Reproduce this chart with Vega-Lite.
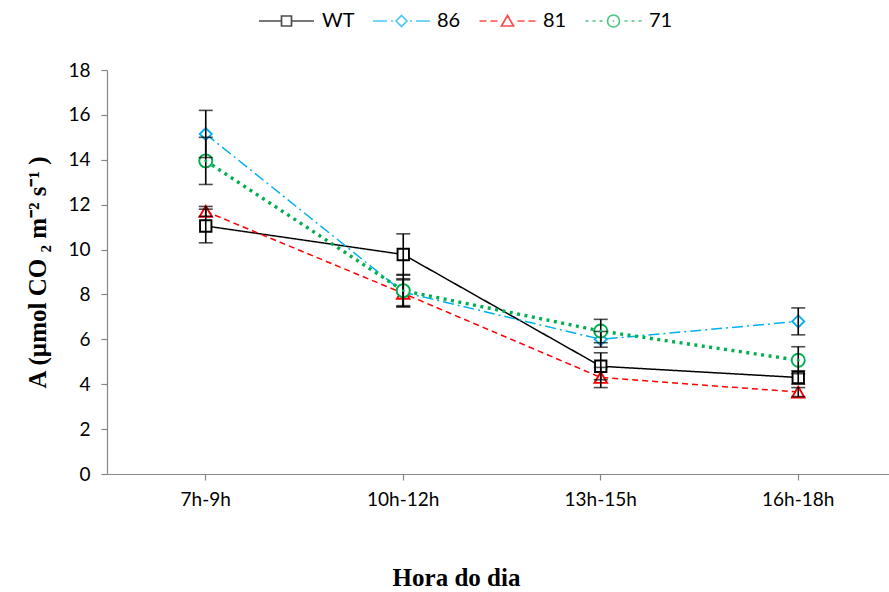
{
  "$schema": "https://vega.github.io/schema/vega-lite/v6.json",
  "width": 782,
  "height": 404,
  "autosize": {"type": "none"},
  "padding": {"left": 107, "top": 70, "right": 0, "bottom": 118},
  "background": "white",
  "data": {
    "values": [
      {"time": "7h-9h", "series": "WT", "A": 11.05, "err": 0.75},
      {"time": "7h-9h", "series": "86", "A": 15.15, "err": 1.05},
      {"time": "7h-9h", "series": "81", "A": 11.7, "err": 0.22},
      {"time": "7h-9h", "series": "71", "A": 13.95, "err": 1.05},
      {"time": "10h-12h", "series": "WT", "A": 9.78, "err": 0.92},
      {"time": "10h-12h", "series": "86", "A": 8.1, "err": 0.6},
      {"time": "10h-12h", "series": "81", "A": 8.05, "err": 0.6},
      {"time": "10h-12h", "series": "71", "A": 8.17, "err": 0.72},
      {"time": "13h-15h", "series": "WT", "A": 4.8, "err": 0.6},
      {"time": "13h-15h", "series": "86", "A": 6.0, "err": 0.35},
      {"time": "13h-15h", "series": "81", "A": 4.3, "err": 0.45},
      {"time": "13h-15h", "series": "71", "A": 6.37, "err": 0.52},
      {"time": "16h-18h", "series": "WT", "A": 4.3, "err": 0.3},
      {"time": "16h-18h", "series": "86", "A": 6.8, "err": 0.6},
      {"time": "16h-18h", "series": "81", "A": 3.65, "err": 0.2},
      {"time": "16h-18h", "series": "71", "A": 5.07, "err": 0.6}
    ]
  },
  "encoding": {
    "x": {
      "field": "time",
      "type": "nominal",
      "sort": ["7h-9h", "10h-12h", "13h-15h", "16h-18h"],
      "scale": {"type": "band", "range": [0, 790], "paddingInner": 0, "paddingOuter": 0},
      "axis": {
        "title": "Hora do dia",
        "labelAngle": 0,
        "titleX": 349,
        "titleY": 103,
        "titleBaseline": "middle",
        "titleAnchor": "start",
        "titleAlign": "center"
      }
    },
    "y": {
      "field": "A",
      "type": "quantitative",
      "scale": {"domain": [0, 18], "nice": false, "zero": true},
      "axis": {
        "title": "A (µmol CO ₂ m⁻² s⁻¹ )",
        "values": [0, 2, 4, 6, 8, 10, 12, 14, 16, 18],
        "titleX": -70,
        "titleY": 202,
        "titleAngle": -90,
        "titleBaseline": "middle",
        "titleAlign": "center",
        "titleAnchor": "start"
      }
    }
  },
  "layer": [
    {
      "mark": {"type": "line", "strokeCap": "butt"},
      "encoding": {
        "color": {
          "field": "series", "type": "nominal",
          "scale": {"domain": ["WT", "86", "81", "71"], "range": ["#000000", "#00B0F0", "#FF0000", "#00B050"]},
          "legend": null
        },
        "strokeDash": {
          "field": "series", "type": "nominal",
          "scale": {"domain": ["WT", "86", "81", "71"], "range": [[1, 0], [11, 4, 2, 4], [6, 4], [3, 4.5]]},
          "legend": null
        },
        "strokeWidth": {
          "condition": {"test": "datum.series === '71'", "value": 3.4},
          "value": 1.5
        }
      }
    },
    {
      "mark": {"type": "point", "filled": false, "fill": "white", "fillOpacity": 1, "strokeWidth": 1.9, "opacity": 1},
      "encoding": {
        "stroke": {
          "field": "series", "type": "nominal",
          "scale": {"domain": ["WT", "86", "81", "71"], "range": ["#000000", "#00B0F0", "#FF0000", "#00B050"]},
          "legend": null
        },
        "shape": {
          "field": "series", "type": "nominal",
          "scale": {"domain": ["WT", "86", "81", "71"], "range": ["square", "diamond", "triangle-up", "circle"]},
          "legend": null
        },
        "size": {
          "field": "series", "type": "nominal",
          "scale": {"domain": ["WT", "86", "81", "71"], "range": [130, 170, 150, 170]},
          "legend": null
        }
      }
    },
    {
      "mark": {
        "type": "errorbar",
        "color": "black",
        "ticks": {"size": 14, "thickness": 1.6, "color": "black"},
        "rule": {"strokeWidth": 1.6, "color": "black"}
      },
      "encoding": {
        "yError": {"field": "err"}
      }
    },
    {
      "transform": [{"filter": "datum.series === '71'"}],
      "mark": {"type": "point", "filled": true, "shape": "circle", "size": 8, "color": "#00B050", "opacity": 1},
      "encoding": {}
    },
    {
      "transform": [{"filter": "false"}],
      "mark": {"type": "point", "filled": false, "strokeWidth": 1.5},
      "encoding": {
        "color": {
          "field": "series", "type": "nominal",
          "scale": {"domain": ["WT", "86", "81", "71"], "range": ["#000000", "#00B0F0", "#FF0000", "#00B050"]},
          "legend": {"title": null}
        },
        "shape": {
          "field": "series", "type": "nominal",
          "scale": {
            "domain": ["WT", "86", "81", "71"],
            "range": [
              "M-5.5,0H-1M1,0H5.5M-1,-1H1V1H-1Z",
              "M-5.7,0H-2.9M-2.1,0H-1.7M0,-1.1L1.1,0L0,1.1L-1.1,0ZM1.7,0H2.1M2.9,0H5.7",
              "M-5.6,0H-4.2M-3.4,0H-2M0,-1.1L1.2,1H-1.2ZM2,0H3.4M4.2,0H5.6",
              "M-5.6,0H-5M-4.2,0H-3.6M-2.8,0H-2.2M1.2,0A1.2,1.2,0,1,1,-1.2,0A1.2,1.2,0,1,1,1.2,0ZM-0.15,0H0.15M2.2,0H2.8M3.6,0H4.2M5,0H5.6"
            ]
          },
          "legend": {"title": null}
        }
      }
    }
  ],
  "resolve": {"scale": {"color": "independent", "shape": "independent"}},
  "config": {
    "view": {"stroke": null},
    "font": "Lato",
    "axis": {
      "grid": false,
      "domainColor": "#868686",
      "domainWidth": 1.2,
      "tickColor": "#868686",
      "tickWidth": 1.2,
      "tickSize": 6,
      "labelFont": "Lato",
      "labelFontSize": 19,
      "labelColor": "#000000",
      "titleFont": "Liberation Serif",
      "titleFontSize": 25,
      "titleFontWeight": "bold",
      "titleColor": "#000000"
    },
    "axisX": {"labelPadding": 10},
    "axisY": {"labelPadding": 11},
    "legend": {
      "orient": "none",
      "direction": "horizontal",
      "legendX": 147,
      "legendY": -59,
      "padding": 0,
      "symbolSize": 100,
      "symbolStrokeWidth": 1.7,
      "symbolOffset": 22.5,
      "labelOffset": 25.5,
      "columnPadding": 14,
      "labelFont": "Lato",
      "labelFontSize": 20,
      "labelColor": "#000000"
    }
  }
}
